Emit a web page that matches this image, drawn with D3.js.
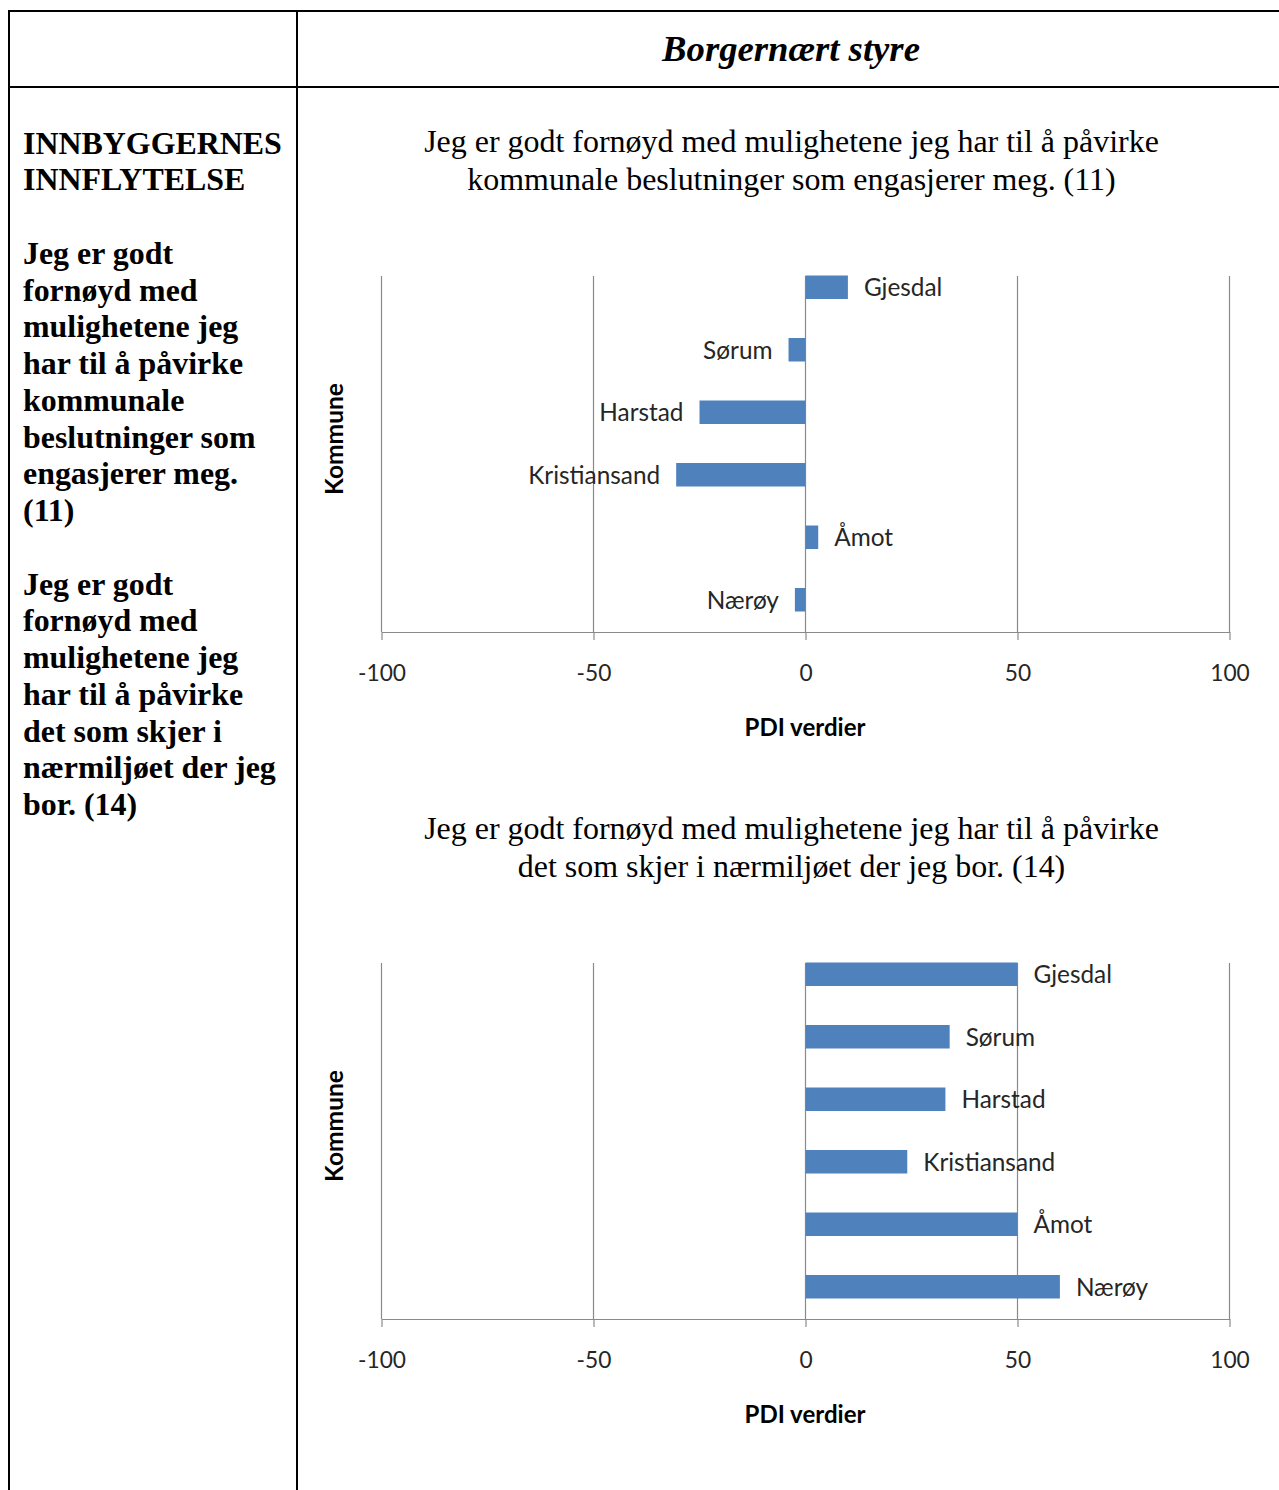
<!DOCTYPE html>
<html>
<head>
<meta charset="utf-8">
<script src="https://cdn.jsdelivr.net/npm/d3@7"></script>
<style>
  html, body { margin: 0; padding: 0; background: #fff; }
  svg { display: block; }
</style>
</head>
<body>
<svg id="chart" width="1279" height="1490"></svg>
<script>
// ---------- data ----------
const headerText = "Borgernært styre";
const sectionTitle = ["INNBYGGERNES", "INNFLYTELSE"];
const question1Lines = ["Jeg er godt", "fornøyd med", "mulighetene jeg", "har til å påvirke", "kommunale", "beslutninger som", "engasjerer meg.", "(11)"];
const question2Lines = ["Jeg er godt", "fornøyd med", "mulighetene jeg", "har til å påvirke", "det som skjer i", "nærmiljøet der jeg", "bor. (14)"];
const chart1Title = ["Jeg er godt fornøyd med mulighetene jeg har til å påvirke", "kommunale beslutninger som engasjerer meg. (11)"];
const chart2Title = ["Jeg er godt fornøyd med mulighetene jeg har til å påvirke", "det som skjer i nærmiljøet der jeg bor. (14)"];
const categories = ["Gjesdal", "Sørum", "Harstad", "Kristiansand", "Åmot", "Nærøy"];
const values11 = [10, -4, -25, -30.5, 3, -2.5];
const values14 = [50, 34, 33, 24, 50, 60];
const xTicks = [-100, -50, 0, 50, 100];
const xAxisTitle = "PDI verdier";
const yAxisTitle = "Kommune";

// ---------- helpers ----------
const svg = d3.select("#chart");
const SERIF = "'Liberation Serif', 'Times New Roman', serif";
const SANS = "Lato, 'Open Sans', 'Noto Sans', sans-serif";

function fitSize(text, family, weight, style, target) {
  const t = svg.append("text").attr("x", -1000).attr("y", -1000)
    .style("font-family", family).style("font-weight", weight).style("font-style", style)
    .style("font-size", "100px").text(text);
  const w = t.node().getComputedTextLength();
  t.remove();
  return 100 * target / w;
}

const fsLeft = fitSize("INNBYGGERNES", SERIF, "bold", "normal", 259);
const fsHeader = fitSize(headerText, SERIF, "bold", "italic", 258);
const fsTitle = fitSize(chart1Title[0], SERIF, "normal", "normal", 735);
const fsLabel = fitSize("Kristiansand", SANS, "normal", "normal", 132);
const fsTick = fitSize("-100", SANS, "normal", "normal", 48);
const fsAxisTitle = fitSize(xAxisTitle, SANS, "bold", "normal", 121);
const fsYTitle = fitSize(yAxisTitle, SANS, "bold", "normal", 112);

// ---------- table ----------
const tbl = svg.append("g").attr("stroke", "#000").attr("stroke-width", 2);
tbl.append("line").attr("x1", 8).attr("x2", 1279).attr("y1", 11).attr("y2", 11);
tbl.append("line").attr("x1", 8).attr("x2", 1279).attr("y1", 87).attr("y2", 87);
tbl.append("line").attr("x1", 9).attr("x2", 9).attr("y1", 10).attr("y2", 1490);
tbl.append("line").attr("x1", 297).attr("x2", 297).attr("y1", 10).attr("y2", 1490);

svg.append("text").attr("x", 791).attr("y", 61)
  .attr("text-anchor", "middle")
  .style("font-family", SERIF).style("font-weight", "bold").style("font-style", "italic")
  .style("font-size", fsHeader + "px").text(headerText);

// left column
const leftLines = [...sectionTitle, "", ...question1Lines, "", ...question2Lines];
const leftG = svg.append("g")
  .style("font-family", SERIF).style("font-weight", "bold").style("font-size", fsLeft + "px");
leftLines.forEach((l, i) => {
  if (!l) return;
  leftG.append("text").attr("x", 23).attr("y", 153.5 + i * 36.75).text(l);
});

// ---------- charts ----------
const x = d3.scaleLinear().domain([-100, 100]).range([381.5, 1229.5]);

function drawChart(dy, titleLines, values) {
  const g = svg.append("g").attr("transform", `translate(0,${dy})`);
  const plotTop = 276, plotBottom = 632;

  // title
  titleLines.forEach((l, i) => {
    g.append("text").attr("x", 791.5).attr("y", 152 + i * 37.5)
      .attr("text-anchor", "middle")
      .style("font-family", SERIF).style("font-size", fsTitle + "px").text(l);
  });

  const y = d3.scaleBand().domain(categories).range([256, 631])
    .paddingInner(0.624).paddingOuter(0.312);

  // gridlines
  g.append("g").selectAll("line").data(xTicks).join("line")
    .attr("x1", d => x(d)).attr("x2", d => x(d))
    .attr("y1", plotTop).attr("y2", plotBottom)
    .attr("stroke", "#8a8a8a").attr("stroke-width", 1.2);

  // bars
  const data = categories.map((c, i) => ({ c, v: values[i] }));
  g.append("g").selectAll("rect").data(data).join("rect")
    .attr("x", d => x(Math.min(0, d.v)))
    .attr("width", d => Math.abs(x(d.v) - x(0)))
    .attr("y", d => y(d.c))
    .attr("height", y.bandwidth())
    .attr("fill", "#4f81bd");

  // data labels
  g.append("g").selectAll("text").data(data).join("text")
    .attr("x", d => d.v >= 0 ? x(d.v) + 16 : x(d.v) - 16)
    .attr("y", d => y(d.c) + y.bandwidth() / 2)
    .attr("dy", "0.36em")
    .attr("text-anchor", d => d.v >= 0 ? "start" : "end")
    .style("font-family", SANS).style("font-size", fsLabel + "px").attr("fill", "#262626")
    .text(d => d.c);

  // x axis
  const ax = g.append("g").attr("transform", `translate(0,${plotBottom})`)
    .call(d3.axisBottom(x).tickValues(xTicks).tickSize(8).tickSizeOuter(0).tickFormat(d3.format("d")));
  ax.select(".domain").attr("stroke", "#8a8a8a").attr("stroke-width", 1.2);
  ax.selectAll(".tick line").attr("stroke", "#8a8a8a").attr("stroke-width", 1.2);
  ax.selectAll(".tick text").attr("y", 41).attr("dy", "0.35em")
    .attr("fill", "#262626")
    .style("font-family", SANS).style("font-size", fsTick + "px")
    .text(d => d < 0 ? "-" + Math.abs(d) : d);

  // axis titles
  g.append("text").attr("x", 805).attr("y", 728).attr("dy", "0.35em")
    .attr("text-anchor", "middle").attr("fill", "#000")
    .style("font-family", SANS).style("font-weight", "bold").style("font-size", fsAxisTitle + "px")
    .text(xAxisTitle);
  g.append("text").attr("transform", "translate(334,439) rotate(-90)").attr("dy", "0.35em")
    .attr("text-anchor", "middle").attr("fill", "#000")
    .style("font-family", SANS).style("font-weight", "bold").style("font-size", fsYTitle + "px")
    .text(yAxisTitle);
}

drawChart(0, chart1Title, values11);
drawChart(687, chart2Title, values14);
</script>
</body>
</html>
